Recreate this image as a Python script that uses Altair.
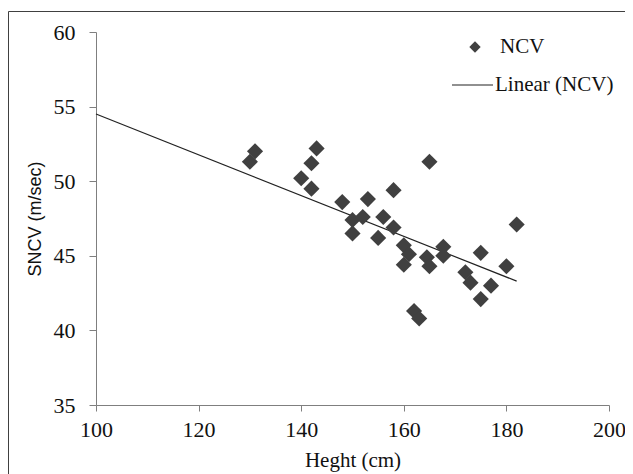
import altair as alt
import pandas as pd

# Scatter data
height_cm = [131, 130, 143, 142, 140, 142, 148, 153, 158, 150, 150, 152, 156, 155, 158,
             160, 160, 161, 164.5, 165, 167.7, 167.7, 172, 173, 175, 177, 175, 180, 182,
             162, 163, 165]
sncv = [52.0, 51.3, 52.2, 51.2, 50.2, 49.5, 48.6, 48.8, 49.4, 47.4, 46.5, 47.6, 47.6, 46.2, 46.9,
        45.7, 44.4, 45.1, 44.9, 44.3, 45.6, 45.0, 43.9, 43.2, 45.2, 43.0, 42.1, 44.3, 47.1,
        41.3, 40.8, 51.3]

# Linear trend line endpoints
trend_x = [100, 182]
trend_y = [54.5, 43.3]

x_ticks = [100, 120, 140, 160, 180, 200]
y_ticks = [35, 40, 45, 50, 55, 60]

pts = pd.DataFrame({"Height": height_cm, "SNCV": sncv})
trend = pd.DataFrame({"Height": trend_x, "SNCV": trend_y})

SERIF = "Liberation Serif"
SANS = "Liberation Sans"

xscale = alt.Scale(domain=[100, 200], nice=False, zero=False)
yscale = alt.Scale(domain=[35, 60], nice=False, zero=False)

xaxis = alt.Axis(values=x_ticks, title="Heght (cm)", grid=False, domainColor="#7f7f7f",
                 tickColor="#7f7f7f", tickSize=6, labelFont=SERIF, labelFontSize=22,
                 labelColor="#111", labelPadding=8, labelFlush=False, titleFont=SERIF,
                 titleFontSize=21, titleFontWeight="normal", titleColor="#111", titlePadding=9)
yaxis = alt.Axis(values=y_ticks, title="SNCV (m/sec)", grid=False, domainColor="#7f7f7f",
                 tickColor="#7f7f7f", tickSize=7, labelFont=SERIF, labelFontSize=22,
                 labelColor="#111", labelPadding=14, labelFlush=False, titleFont=SANS,
                 titleFontSize=18, titleFontWeight="normal", titleColor="#111", titlePadding=9)

points = alt.Chart(pts).mark_point(shape="diamond", filled=True, size=260,
                                   color="#404040", opacity=1).encode(
    x=alt.X("Height:Q", scale=xscale, axis=xaxis),
    y=alt.Y("SNCV:Q", scale=yscale, axis=yaxis),
)

line = alt.Chart(trend).mark_line(color="#222222", strokeWidth=1.2).encode(
    x=alt.X("Height:Q", scale=xscale),
    y=alt.Y("SNCV:Q", scale=yscale),
)

# Legend (drawn manually)
leg = pd.DataFrame({"d": [0]})
leg_diamond = alt.Chart(leg).mark_point(shape="diamond", filled=True, size=130,
                                        color="#404040", opacity=1).encode(
    x=alt.value(379), y=alt.value(15))
leg_text1 = alt.Chart(leg).mark_text(text="NCV", font=SERIF, fontSize=21, align="left",
                                     baseline="middle", color="#111").encode(
    x=alt.value(404), y=alt.value(15))
leg_line = alt.Chart(leg).mark_rule(color="#222222", strokeWidth=1.2).encode(
    x=alt.value(356), x2=alt.value(397), y=alt.value(53))
leg_text2 = alt.Chart(leg).mark_text(text="Linear (NCV)", font=SERIF, fontSize=21,
                                     align="left", baseline="middle", color="#111").encode(
    x=alt.value(399), y=alt.value(53))

# Outer frame lines (top and left)
frame_top = alt.Chart(leg).mark_rule(color="#404040", strokeWidth=1).encode(
    x=alt.value(-87.5), x2=alt.value(540), y=alt.value(-20.5))
frame_left = alt.Chart(leg).mark_rule(color="#404040", strokeWidth=1).encode(
    x=alt.value(-87.5), y=alt.value(-20.5), y2=alt.value(460))

chart = alt.layer(frame_top, frame_left, line, points, leg_diamond, leg_text1,
                  leg_line, leg_text2).properties(
    width=513, height=373,
    autosize=alt.AutoSizeParams(type="none"),
    padding={"left": 88, "top": 24, "right": 16, "bottom": 69},
    background="white",
).configure_view(stroke=None)

chart.save("out.html", embed_options={"renderer": "svg", "actions": False})
